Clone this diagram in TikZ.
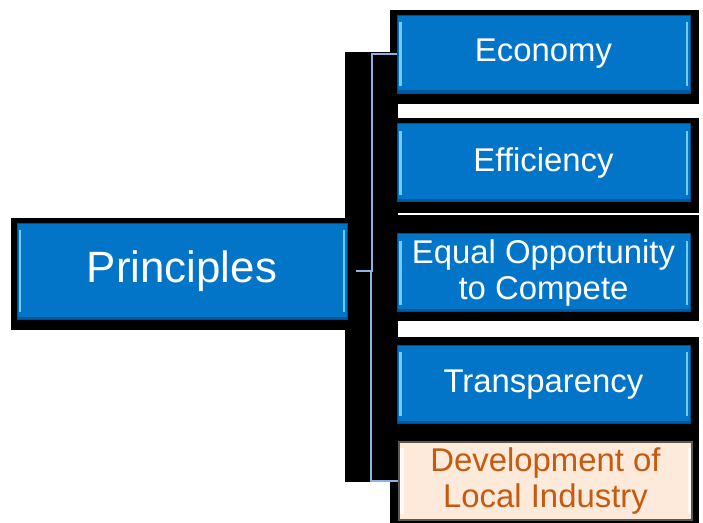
\documentclass[tikz,border=0pt]{standalone}
\usepackage{fontspec}
\setsansfont{Liberation Sans}
\usetikzlibrary{positioning}
\definecolor{boxblue}{RGB}{3,117,200}
\definecolor{edgeblue}{RGB}{0,78,140}
\definecolor{glint}{RGB}{110,205,250}
\definecolor{bracecol}{RGB}{141,179,226}
\definecolor{peach}{RGB}{253,234,218}
\definecolor{rust}{RGB}{197,90,17}
\definecolor{rim}{RGB}{90,90,85}

\begin{document}
\begin{tikzpicture}[
    x=1bp, y=-1bp,
    node distance=30bp,
    backdrop/.style={fill=black},
    bevel/.style={path picture={
        \fill[glint] ([xshift=2bp,yshift=-7bp]path picture bounding box.north west)
            rectangle ([xshift=4.5bp,yshift=7bp]path picture bounding box.south west);
        \fill[glint] ([xshift=-2bp,yshift=-7bp]path picture bounding box.north east)
            rectangle ([xshift=-4.5bp,yshift=7bp]path picture bounding box.south east);
        \fill[edgeblue!70!boxblue] ([yshift=2.5bp]path picture bounding box.south west)
            rectangle (path picture bounding box.south east);}},
    mainbox/.style={rectangle, draw=edgeblue, line width=0.8bp, fill=boxblue, text=white,
        align=center, inner sep=0pt, bevel, font=\sffamily\fontsize{44}{48}\selectfont,
        minimum width=330bp, minimum height=96bp},
    itembox/.style={rectangle, draw=edgeblue, line width=0.8bp, fill=boxblue, text=white,
        align=center, inner sep=0pt, bevel, font=\sffamily\fontsize{33}{36}\selectfont,
        minimum width=293bp, minimum height=78bp},
    localbox/.style={itembox, draw=rim, line width=2bp, fill=peach, text=rust,
        path picture={
        \fill[white!70!peach] ([xshift=1bp,yshift=-6bp]path picture bounding box.north west)
            rectangle ([xshift=4.5bp,yshift=6bp]path picture bounding box.south west);
        \fill[white!70!peach] ([xshift=-1bp,yshift=-6bp]path picture bounding box.north east)
            rectangle ([xshift=-4.5bp,yshift=6bp]path picture bounding box.south east);}},
    brace/.style={draw=bracecol, line width=2bp}
]
    \useasboundingbox (0,0) rectangle (703,523);

    % black backing shapes
    \fill[backdrop] (11,218) rectangle (350,330);
    \fill[backdrop] (345,52) rectangle (398,482);
    \fill[backdrop] (390,10) rectangle (699,104);
    \fill[backdrop] (390,118) rectangle (699,213);
    \fill[backdrop] (390,215) rectangle (699,321);
    \fill[backdrop] (390,337) rectangle (699,523);

    % boxes
    \node [mainbox] (principles) at (182,271) {Principles};
    \node [itembox] (economy) at (543.5,54) {Economy};
    \node [itembox, below=30bp of economy] (efficiency) {Efficiency};
    \node [itembox, below=31bp of efficiency] (equal) {Equal Opportunity\\to Compete};
    \node [itembox, below=33bp of equal] (transparency) {Transparency};
    \node [localbox, below=17bp of transparency, xshift=2bp] (local) {Development of\\Local Industry};

    % bracket
    \coordinate (tip) at ([xshift=9bp]principles.east);
    \draw [brace] (economy.west) -- ++(-25,0) |- (tip);
    \draw [brace] (local.west) -- ++(-27,0) |- (tip);
\end{tikzpicture}
\end{document}
